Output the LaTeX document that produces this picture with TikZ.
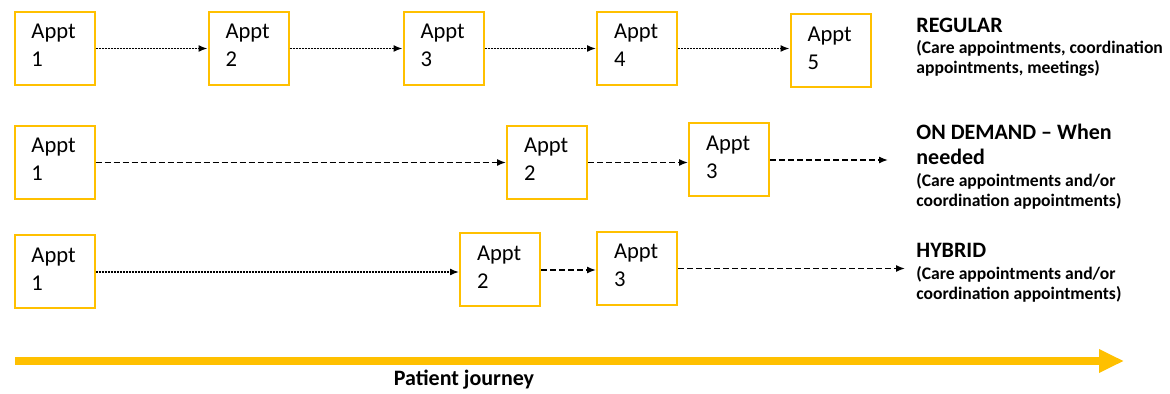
\documentclass[tikz,border=0pt]{standalone}
\usepackage{fontspec}
\setmainfont{Carlito}
\usetikzlibrary{arrows.meta}
\definecolor{apptyellow}{HTML}{FFC000}

\begin{document}
\begin{tikzpicture}[x=0.5pt, y=-0.5pt,
  appt/.style={draw=apptyellow, line width=1pt, minimum height=36.5pt, text width=23pt, inner xsep=8.5pt, inner ysep=0pt, align=left, text depth=17pt, font=\fontsize{11.3}{14}\selectfont},
  dotlink/.style={-{Latex[length=4.5pt,width=3.5pt]}, line width=0.75pt, dash pattern=on 1pt off 0.5pt},
  dashlink/.style={-{Latex[length=4.5pt,width=3.5pt]}, line width=0.7pt, dash pattern=on 3pt off 1.5pt},
  kind/.style={anchor=north west, inner sep=0pt, align=left, font=\fontsize{11}{12.5}\selectfont\bfseries},
  note/.style={anchor=north west, inner sep=0pt, align=left, font=\fontsize{8.8}{10}\selectfont\bfseries},
  journey/.style={draw=apptyellow, line width=4pt, -{Triangle[length=12.5pt,width=11pt]}}]
\useasboundingbox (0,0) rectangle (1170,394);

\node[appt] (reg1) at (54.5,48.5) {Appt\\1};
\node[appt] (reg2) at (248.5,48.5) {Appt\\2};
\node[appt] (reg3) at (443.5,48.5) {Appt\\3};
\node[appt] (reg4) at (637,48.5) {Appt\\4};
\node[appt] (reg5) at (830.5,51) {Appt\\5};
\draw[dotlink] (reg1.east) -- (reg1.east -| reg2.west);
\draw[dotlink] (reg2.east) -- (reg2.east -| reg3.west);
\draw[dotlink] (reg3.east) -- (reg3.east -| reg4.west);
\draw[dotlink] (reg4.east) -- (reg4.east -| reg5.west);
\node[kind] (regTitle) at (916,18) {REGULAR};
\node[note] (regNote) at (916,40) {(Care appointments, coordination\\appointments, meetings)};

\node[appt] (dem1) at (54.5,162.5) {Appt\\1};
\node[appt] (dem2) at (547,162.5) {Appt\\2};
\node[appt] (dem3) at (729,160) {Appt\\3};
\coordinate (demEnd) at (888,160);
\draw[dashlink] (dem1.east) -- (dem1.east -| dem2.west);
\draw[dashlink] (dem2.east) -- (dem2.east -| dem3.west);
\draw[dashlink] (dem3.east) -- (demEnd);
\node[kind] (demTitle) at (916,124) {ON DEMAND – When\\needed};
\node[note] (demNote) at (916,173) {(Care appointments and/or\\coordination appointments)};

\node[appt] (hyb1) at (54.5,272) {Appt\\1};
\node[appt] (hyb2) at (500,270) {Appt\\2};
\node[appt] (hyb3) at (637,268.5) {Appt\\3};
\coordinate (hybEnd) at (905,268.5);
\draw[dotlink] (hyb1.east) -- (hyb1.east -| hyb2.west);
\draw[dashlink] (hyb2.east) -- (hyb2.east -| hyb3.west);
\draw[dashlink] (hyb3.east) -- (hybEnd);
\node[kind] (hybTitle) at (916,243) {HYBRID};
\node[note] (hybNote) at (916,266) {(Care appointments and/or\\coordination appointments)};

\coordinate (jStart) at (15,361);
\coordinate (jEnd) at (1124,361);
\draw[journey] (jStart) -- (jEnd);
\node[font=\fontsize{11}{13}\selectfont\bfseries] (jText) at (464,380) {Patient journey};
\end{tikzpicture}
\end{document}
